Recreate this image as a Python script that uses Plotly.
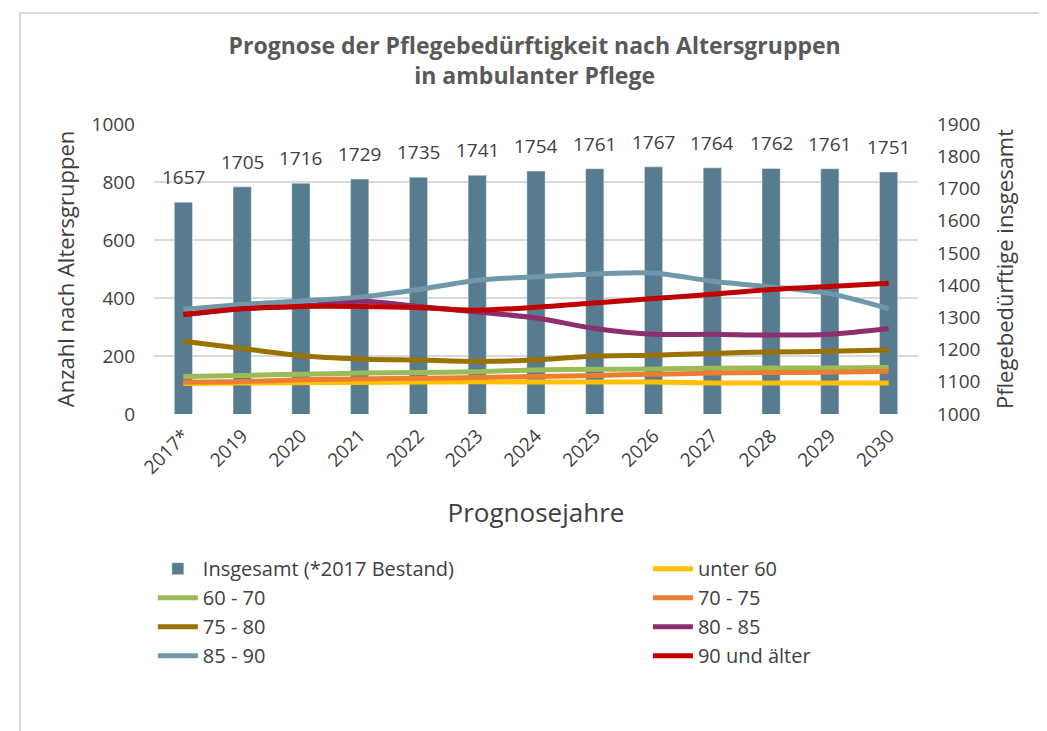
import plotly.graph_objects as go

years = ["2017*", "2019", "2020", "2021", "2022", "2023", "2024",
         "2025", "2026", "2027", "2028", "2029", "2030"]
insgesamt = [1657, 1705, 1716, 1729, 1735, 1741, 1754, 1761, 1767, 1764, 1762, 1761, 1751]

unter_60 = [105, 107, 108, 109, 110, 111, 110, 110, 110, 107, 107, 107, 107]
a60_70 = [129, 133, 137, 141, 143, 146, 152, 154, 155, 158, 159, 159, 160]
a70_75 = [110, 112, 118, 121, 123, 126, 129, 133, 137, 141, 143, 144, 147]
a75_80 = [251, 226, 201, 190, 186, 181, 186, 200, 203, 209, 214, 216, 221]
a80_85 = [343, 363, 371, 390, 371, 352, 331, 295, 275, 275, 272, 275, 295]
a85_90 = [361, 378, 390, 403, 429, 461, 473, 483, 486, 458, 438, 415, 363]
a90_plus = [343, 363, 371, 371, 367, 358, 368, 383, 398, 413, 429, 440, 451]

# (name, values, colour, legend column)
series = [
    ("unter 60", unter_60, "#FFC000", "legend2"),
    ("60 - 70", a60_70, "#9BBB59", "legend"),
    ("70 - 75", a70_75, "#ED7D31", "legend2"),
    ("75 - 80", a75_80, "#9A7200", "legend"),
    ("80 - 85", a80_85, "#8C2F6E", "legend2"),
    ("85 - 90", a85_90, "#7098AA", "legend"),
    ("90 und älter", a90_plus, "#C00000", "legend2"),
]

FONT = "Open Sans"
TXT = "#404040"

fig = go.Figure()
fig.add_trace(go.Bar(x=years, y=insgesamt, name="Insgesamt (*2017 Bestand)",
                     marker_color="#587C8F", width=0.31, yaxis="y",
                     legend="legend", legendgroup="ins"))
for name, vals, col, leg in series:
    fig.add_trace(go.Scatter(x=years, y=vals, name=name, mode="lines",
                             line=dict(color=col, width=5, shape="spline", smoothing=0.8),
                             yaxis="y2", legend=leg, legendgroup=name))

annotations = []
for i, v in enumerate(insgesamt):
    annotations.append(dict(x=i, y=v, xref="x", yref="y", text=str(v), showarrow=False,
                            yanchor="middle", yshift=25,
                            font=dict(family=FONT, size=19, color=TXT)))

legend_common = dict(orientation="v", yanchor="top", y=-0.466, xanchor="left",
                     font=dict(family=FONT, size=20, color=TXT), tracegroupgap=0,
                     itemwidth=40, bgcolor="rgba(0,0,0,0)")

fig.update_layout(
    width=1047, height=731,
    margin=dict(l=146, r=137, t=116, b=325, autoexpand=False),
    paper_bgcolor="white", plot_bgcolor="white",
    font=dict(family=FONT, color=TXT),
    title=dict(text="<b>Prognose der Pflegebedürftigkeit nach Altersgruppen<br>in ambulanter Pflege</b>",
               x=0.503, xanchor="center", y=1 - 46 / 731, yanchor="top",
               xref="container", yref="container",
               font=dict(family=FONT, size=23, color="#595959")),
    xaxis=dict(type="category", tickangle=-45, tickfont=dict(size=19, color=TXT),
               showgrid=False, showline=False, ticks="", ticklabelstandoff=6,
               automargin=False,
               title=dict(text="Prognosejahre", font=dict(size=26, color=TXT), standoff=25)),
    yaxis=dict(side="right", range=[1000, 1900], dtick=100, showgrid=False,
               zeroline=False, tickfont=dict(size=19, color=TXT), ticklabelstandoff=18,
               automargin=False,
               title=dict(text="Pflegebedürftige insgesamt", font=dict(size=22, color=TXT), standoff=18)),
    yaxis2=dict(overlaying="y", side="left", range=[0, 1000], dtick=200,
                showgrid=True, gridcolor="#D9D9D9", gridwidth=1.5, zeroline=False,
                tickfont=dict(size=19, color=TXT), ticklabelstandoff=18,
                automargin=False,
                title=dict(text="Anzahl nach Altersgruppen", font=dict(size=22, color=TXT), standoff=10)),
    legend=dict(x=-0.0015, **legend_common),
    legend2=dict(x=0.6465, **legend_common),
    annotations=annotations,
    shapes=[dict(type="rect", xref="paper", yref="paper", x0=-0.1754, x1=1.175,
                 y0=-1.2, y1=1.383, line=dict(color="#D9D9D9", width=2), layer="below")],
)

fig.write_html("out.html")
